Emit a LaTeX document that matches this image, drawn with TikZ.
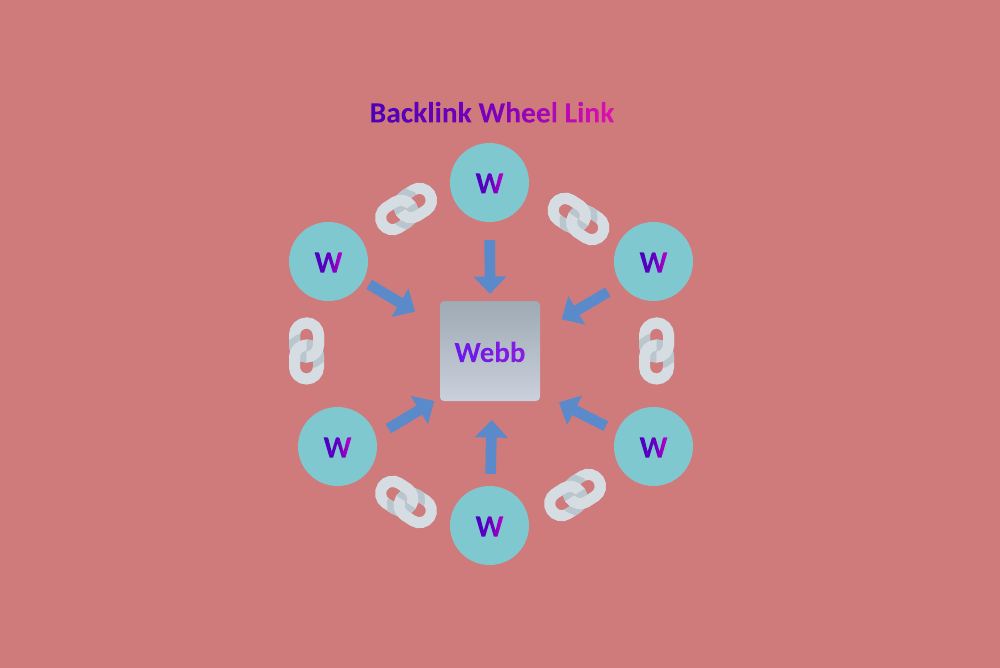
\documentclass[tikz,border=0pt]{standalone}
\usepackage{fontspec}
\setmainfont{Carlito}
\usetikzlibrary{arrows.meta,shadings,calc}
\definecolor{bgc}{HTML}{CF7B7B}
\definecolor{circ}{HTML}{80C8D0}
\definecolor{arr}{HTML}{5B8ACB}
\definecolor{linkc}{HTML}{D5DDE3}
\definecolor{linkshade}{HTML}{BAC6CD}
\definecolor{blu}{HTML}{4A00B8}
\definecolor{tmid}{HTML}{7A00BC}
\definecolor{mag}{HTML}{E010B0}
\definecolor{wblu}{HTML}{4A00C0}
\definecolor{wmid}{HTML}{6000C0}
\definecolor{wmag}{HTML}{C000C8}
\definecolor{wbA}{HTML}{6A18EA}
\definecolor{wbM}{HTML}{7A1AE5}
\definecolor{wbB}{HTML}{8A1CE0}
\newsavebox\gradbox
\newcommand\gradtext[4]{\sbox\gradbox{#4}%
  \special{pdf:code q 7 Tr}\usebox\gradbox\special{pdf:code 0 Tr}%
  \llap{\tikz[baseline=0pt]{\shade[left color=#1,right color=#3,middle color=#2] (0pt,-8pt) rectangle (\wd\gradbox,30pt);}}%
  \special{pdf:code Q}}
\newcommand\stad[2]{(-#2,#1-5) arc[start angle=180,end angle=360,radius=#2] -- (#2,#1+5) arc[start angle=0,end angle=180,radius=#2] -- cycle}
\tikzset{
  site/.style={circle,fill=circ,minimum size=79pt,inner sep=0pt,font=\fontsize{31}{31}\selectfont\bfseries},
  bigarrow/.style={draw=arr,line width=10.7pt,-{Triangle[width=32pt,length=17.5pt]}},
  chainlink/.style={draw=linkc,line width=11pt},
  chainshade/.style={draw=linkshade,line width=24pt},
  chain/.pic={
    \draw[chainlink] \stad{-11}{12};
    \begin{scope}[even odd rule]
      \clip (-20,-40) rectangle (0,40);
      \clip \stad{-11}{17.5} \stad{-11}{6.5};
      \draw[chainshade] \stad{11}{12};
    \end{scope}
    \draw[chainlink] \stad{11}{12};
    \begin{scope}
      \clip (0,-40) rectangle (20,40);
      \begin{scope}[even odd rule]
        \clip \stad{11}{17.5} \stad{11}{6.5};
        \draw[chainshade] \stad{-11}{12};
      \end{scope}
      \draw[chainlink] \stad{-11}{12};
    \end{scope}
  }
}
\newcommand\wtext{\gradtext{wblu}{wmid}{wmag}{W}}
\begin{document}
\begin{tikzpicture}[x=1pt,y=-1pt]
\useasboundingbox (0,0) rectangle (1000,668);
\fill[bgc] (0,0) rectangle (1000,668);
\node[font=\fontsize{29.5}{30}\selectfont\bfseries] (title) at (492,111.5) {\gradtext{blu}{tmid}{mag}{Backlink Wheel Link}};
\node[site] (wt) at (489.5,182.5) {\wtext};
\node[site] (wul) at (328.5,261.5) {\wtext};
\node[site] (wur) at (653.5,261.5) {\wtext};
\node[site] (wll) at (337.5,446.5) {\wtext};
\node[site] (wlr) at (653.5,446.5) {\wtext};
\node[site] (wb) at (489.5,525.5) {\wtext};
\node[rounded corners=4pt,minimum size=100pt,inner sep=0pt,top color={rgb,255:red,158;green,170;blue,180},bottom color={rgb,255:red,202;green,208;blue,220},font=\fontsize{29}{29}\selectfont\bfseries] (hub) at (490,351) {\raisebox{1pt}{\gradtext{wbA}{wbM}{wbB}{Webb}}};
\coordinate (tt) at (490,294);
\coordinate (tul) at (415,311.7);
\coordinate (tur) at (561.7,319.3);
\coordinate (tll) at (434.3,401);
\coordinate (tlr) at (559,402.3);
\coordinate (tb) at (491.7,420);
\draw[bigarrow,shorten <=18pt] (wt) -- (tt);
\draw[bigarrow,shorten <=7pt] (wul.-29) -- (tul);
\draw[bigarrow,shorten <=15.2pt] (wur.215) -- (tur);
\draw[bigarrow,shorten <=14.6pt] (wll.15) -- (tll);
\draw[bigarrow,shorten <=12.2pt] (wlr.158) -- (tlr);
\draw[bigarrow,shorten <=12pt] (wb) -- (tb);
\pic at (306.5,351) {chain};
\pic at (656.5,351) {chain};
\pic[rotate=57] at (578.5,219) {chain};
\pic[rotate=57] at (406,502) {chain};
\pic[rotate=-57] at (406,209) {chain};
\pic[rotate=-57] at (575,495) {chain};
\end{tikzpicture}
\end{document}
